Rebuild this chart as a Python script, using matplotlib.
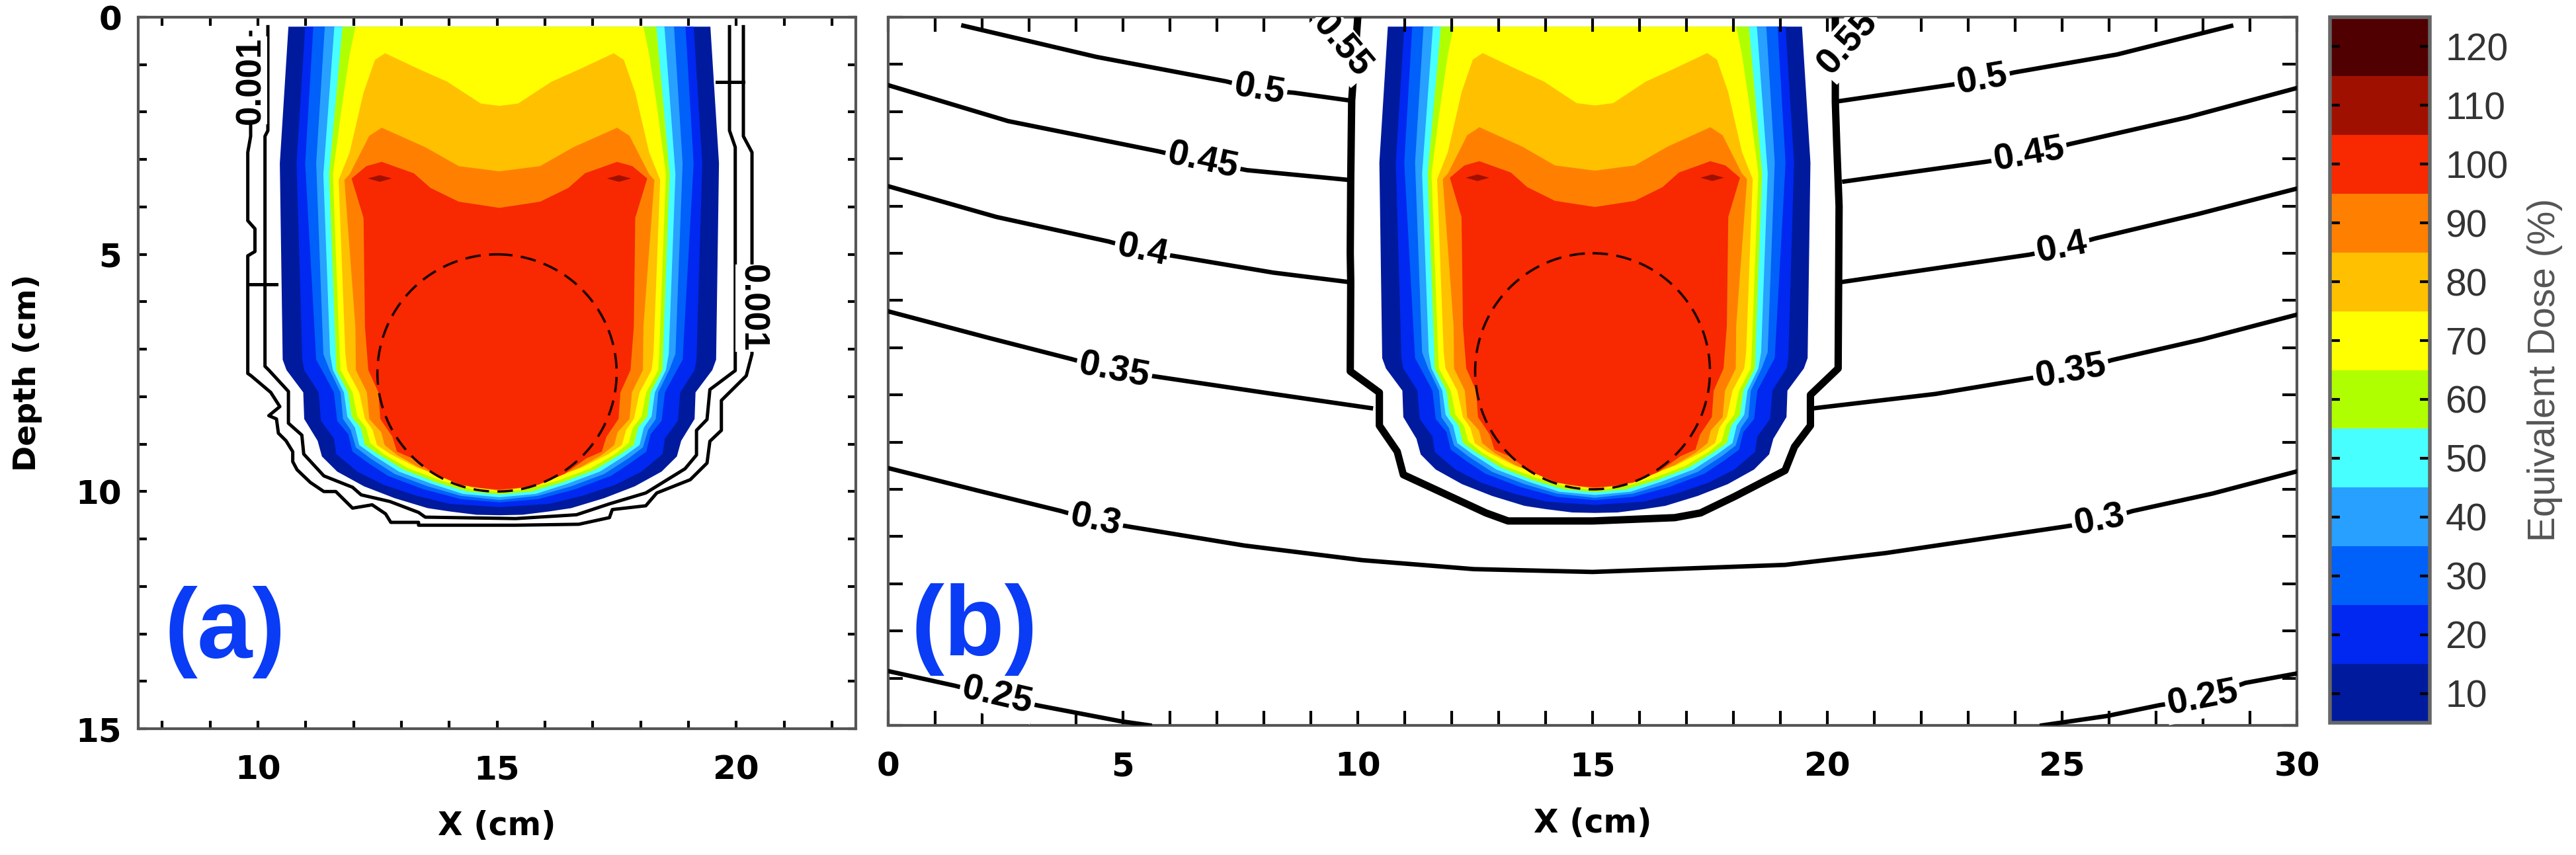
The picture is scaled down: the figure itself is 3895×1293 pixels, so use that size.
import matplotlib
matplotlib.use("Agg")
import matplotlib.pyplot as plt
import numpy as np
from matplotlib.colors import ListedColormap, BoundaryNorm
from matplotlib.cm import ScalarMappable
from matplotlib.patches import Circle
from matplotlib.ticker import MultipleLocator

# colour bands of the dose map
dose_levels = [5, 15, 25, 35, 45, 55, 65, 75, 85, 95, 105, 115, 125]
dose_ticks = [10, 20, 30, 40, 50, 60, 70, 80, 90, 100, 110, 120]
dose_colors = ["#001a9e", "#0028f0", "#0060fa", "#28a0ff", "#48ffff", "#b0ff00",
               "#ffff00", "#ffc000", "#ff8000", "#f82800", "#a01000", "#500000"]
beam_centre = 15.05

# isodose outlines: half width from the beam centre (cm) against depth (cm)
hw_5 = [4.41, 4.59, 4.53, 4.45, 4.10, 4.08, 3.80, 3.71, 3.39, 2.83, 2.19, 1.50, 1.04, 0.48, 0]
d_5 = [0.2, 3.08, 7.22, 7.44, 7.91, 8.47, 8.93, 9.26, 9.58, 9.89, 10.14, 10.35, 10.42, 10.49, 10.5]
hw_15 = [4.06, 4.24, 4.12, 4.08, 3.78, 3.73, 3.46, 3.41, 2.97, 2.42, 1.73, 1.04, 0]
d_15 = [0.2, 3.08, 7.22, 7.44, 7.91, 8.51, 8.88, 9.21, 9.58, 9.86, 10.09, 10.26, 10.33]
hw_25 = [3.89, 4.06, 3.83, 3.71, 3.46, 3.39, 3.16, 3.07, 2.74, 2.33, 1.59, 0.81, 0]
d_25 = [0.2, 3.08, 7.22, 7.44, 7.91, 8.51, 8.79, 9.16, 9.4, 9.67, 9.95, 10.16, 10.23]
hw_35 = [3.65, 3.83, 3.68, 3.55, 3.32, 3.27, 3.11, 3.0, 2.70, 2.19, 1.5, 0.81, 0]
d_35 = [0.2, 3.08, 7.1, 7.44, 7.91, 8.47, 8.7, 9.07, 9.3, 9.63, 9.89, 10.09, 10.18]
hw_45 = [3.45, 3.68, 3.54, 3.48, 3.25, 3.18, 3.02, 2.93, 2.60, 2.10, 1.41, 0.76, 0]
d_45 = [0.2, 3.31, 7.1, 7.44, 7.91, 8.42, 8.65, 9.02, 9.26, 9.58, 9.84, 10.05, 10.12]
hw_55 = [3.28, 3.56, 3.42, 3.41, 3.16, 3.09, 2.90, 2.81, 2.51, 2.0, 1.31, 0.67, 0]
d_55 = [0.2, 3.31, 7.1, 7.44, 7.91, 8.42, 8.65, 9.02, 9.23, 9.54, 9.81, 10.0, 10.06]
hw_65 = [3.01, 3.13, 3.3, 3.48, 3.34, 3.32, 3.07, 2.97, 2.79, 2.70, 2.42, 1.91, 1.22, 0.58, 0]
d_65 = [0.2, 0.78, 1.93, 3.31, 7.1, 7.44, 7.91, 8.42, 8.65, 8.98, 9.21, 9.51, 9.77, 9.95, 10.01]
hw_75 = [0, 0.39, 1.09, 1.67, 2.39, 2.6, 2.84, 3.13, 3.36, 3.22, 3.18, 2.93, 2.81, 2.65, 2.56, 2.28, 1.73, 1.13, 0.48, 0]
d_75 = [1.87, 1.82, 1.36, 1.1, 0.76, 0.9, 1.59, 2.85, 3.43, 7.1, 7.44, 7.91, 8.47, 8.7, 9.02, 9.21, 9.49, 9.72, 9.91, 9.99]
hw_85 = [0, 0.85, 1.55, 2.46, 2.72, 3.13, 3.24, 3.01, 3.0, 2.77, 2.72, 2.47, 2.40, 2.14, 1.69, 1.08, 0.58, 0]
d_85 = [3.25, 3.14, 2.74, 2.33, 2.5, 3.31, 3.43, 6.53, 7.44, 7.91, 8.47, 8.75, 9.02, 9.23, 9.49, 9.73, 9.91, 9.98]
hw_95 = [0, 0.85, 1.44, 1.79, 2.46, 2.78, 3.09, 2.84, 2.81, 2.74, 2.53, 2.49, 2.24, 2.14, 1.82, 1.36, 0.81, 0.35, 0]
d_95 = [4.02, 3.89, 3.6, 3.29, 3.05, 3.14, 3.4, 4.23, 6.53, 7.44, 7.91, 8.47, 8.84, 9.16, 9.3, 9.63, 9.86, 9.93, 9.96]
hot_hw = [2.25, 2.5, 2.75, 2.5]
hot_d = [3.4, 3.33, 3.4, 3.47]

# target circle
target_x = 15.0
target_depth = 7.5
target_r = 2.5

# panel (a) low dose lines
a_outer_x = [9.85, 9.85, 9.79, 9.79, 9.94, 9.94, 9.79, 9.79, 9.86, 10.27, 10.46, 10.23, 10.39, 10.43, 10.59,
             10.73, 10.73, 10.82, 11.1, 11.38, 11.63, 11.98, 12.39, 12.67, 12.78, 13.36, 13.36, 15.39,
             16.71, 17.35, 17.41, 18.11, 18.34, 19.04, 19.39, 19.45, 19.69, 19.69, 20.21, 20.33, 20.33, 20.15, 20.15]
a_outer_d = [0.32, 2.51, 2.85, 4.29, 4.46, 4.94, 5.03, 7.51, 7.56, 7.91, 8.21, 8.4, 8.47, 8.77, 8.93,
             9.16, 9.37, 9.54, 9.81, 10.0, 10.0, 10.35, 10.28, 10.47, 10.65, 10.65, 10.71, 10.71,
             10.69, 10.55, 10.38, 10.3, 10.03, 9.75, 9.4, 8.94, 8.71, 8.08, 7.56, 7.1, 2.85, 2.51, 0.2]
a_inner_x = [10.21, 10.21, 10.15, 10.15, 10.23, 10.64, 10.64, 10.92, 10.96, 11.38, 11.98, 12.16, 12.76, 13.36,
             13.5, 15.39, 16.66, 17.35, 18.11, 18.93, 19.17, 19.17, 19.39, 19.45, 19.98, 19.98, 19.86, 19.86]
a_inner_d = [0.2, 2.39, 2.51, 7.36, 7.44, 7.89, 8.56, 8.81, 9.21, 9.67, 9.91, 10.07, 10.21, 10.44,
             10.54, 10.57, 10.49, 10.26, 10.03, 9.52, 9.23, 8.71, 8.48, 7.85, 7.45, 2.74, 2.39, 0.2]
a_stub_left_x = [9.82, 10.39]
a_stub_left_d = [5.63, 5.63]
a_stub_right_x = [19.6, 20.15]
a_stub_right_d = [1.36, 1.36]
a_labels = ["0.001", "0.001"]
a_label_x = [9.85, 20.33]
a_label_d = [1.33, 6.13]
a_label_rot = [90, -90]

# panel (b) contour lines, each broken by the thick 0.55 line
l50_x = [1.6, 4.43, 7.2, 7.9, 8.64, 9.87]
l50_d = [0.18, 0.84, 1.36, 1.54, 1.6, 1.77]
r50_x = [20.17, 22.58, 23.3, 23.98, 26.17, 28.6]
r50_d = [1.79, 1.44, 1.33, 1.17, 0.79, 0.185]
l45_x = [0, 2.55, 5.75, 6.7, 7.64, 9.84]
l45_d = [1.44, 2.2, 2.84, 3.06, 3.24, 3.45]
r45_x = [20.36, 23.39, 24.3, 25.15, 27.67, 30]
r45_d = [3.48, 3.06, 2.92, 2.69, 2.12, 1.5]
l40_x = [0, 2.3, 4.69, 5.41, 6.1, 8.2, 9.81]
l40_d = [3.58, 4.23, 4.75, 4.95, 5.06, 5.41, 5.61]
r40_x = [20.3, 24.3, 25.0, 25.69, 27.89, 30]
r40_d = [5.61, 5.03, 4.89, 4.69, 4.17, 3.63]
l35_x = [0, 2.17, 3.9, 4.81, 5.69, 8.2, 10.28]
l35_d = [6.23, 6.8, 7.24, 7.49, 7.61, 7.98, 8.28]
r35_x = [19.74, 22.3, 24.24, 25.19, 26.07, 28.0, 30]
r35_d = [8.28, 7.98, 7.66, 7.51, 7.26, 6.82, 6.3]
m30_x = [0, 1.92, 3.68, 4.41, 5.13, 7.58, 10.09, 12.47, 15.0, 19.1, 21.24, 25.05, 25.8, 26.5, 28.2, 30]
m30_d = [9.55, 10.03, 10.46, 10.67, 10.79, 11.19, 11.5, 11.69, 11.75, 11.6, 11.35, 10.79, 10.67, 10.46, 10.09, 9.62]
l25_x = [0, 1.42, 2.32, 3.2, 4.94, 5.57]
l25_d = [13.85, 14.16, 14.39, 14.58, 14.91, 15.0]
r25_x = [24.57, 25.96, 27.08, 28.0, 28.9, 30]
r25_d = [15.0, 14.8, 14.57, 14.43, 14.1, 13.9]
l55_x = [10.0, 9.87, 9.85, 9.84, 9.85, 9.84, 10.46, 10.46, 10.84, 10.97, 11.97, 12.73, 13.2, 15.0,
         16.75, 17.3, 18.03, 19.1, 19.3, 19.64, 19.64, 20.23, 20.25, 20.2, 20.17, 20.17]
l55_d = [0, 1.77, 3.45, 5.0, 5.61, 7.5, 7.95, 8.65, 9.2, 9.69, 10.15, 10.5, 10.67, 10.67,
         10.6, 10.5, 10.15, 9.6, 9.1, 8.65, 8.0, 7.44, 4.0, 2.7, 1.79, 0]

b_labels = ["0.5", "0.5", "0.45", "0.45", "0.4", "0.4", "0.35", "0.35", "0.3", "0.3", "0.25", "0.25", "0.55", "0.55"]
b_label_x = [7.9, 23.3, 6.7, 24.3, 5.41, 25.0, 4.81, 25.19, 4.41, 25.8, 2.32, 28.0, 9.65, 20.44]
b_label_d = [1.54, 1.33, 3.06, 2.92, 4.95, 4.89, 7.49, 7.51, 10.67, 10.67, 14.39, 14.43, 0.61, 0.55]
b_label_rot = [-10, 10, -12, 10, -12, 11, -11, 10, -12, 11, -13, 11, -50, 48]

band_hw = [hw_5, hw_15, hw_25, hw_35, hw_45, hw_55, hw_65, hw_75, hw_85, hw_95]
band_d = [d_5, d_15, d_25, d_35, d_45, d_55, d_65, d_75, d_85, d_95]

LINE = "#000000"
FRAME = "#555555"
BLUE = "#0a3cf5"
TICK_FONT = ["DejaVu Sans"]
plt.rcParams["font.family"] = ["Liberation Sans", "DejaVu Sans"]

W, H = 3895.0, 1293.0
fig = plt.figure(figsize=(W / 100, H / 100), dpi=100)


def box(x0, x1, y0, y1):
    return [x0 / W, 1 - y1 / H, (x1 - x0) / W, (y1 - y0) / H]


ax_a = fig.add_axes(box(209, 1294, 26, 1102))
ax_b = fig.add_axes(box(1343, 3473, 26, 1097))
cax = fig.add_axes(box(3523, 3674, 26, 1093))


def draw_dose(ax):
    for i in range(len(band_hw)):
        hw = np.array(band_hw[i])
        d = np.array(band_d[i])
        xs = np.concatenate([beam_centre - hw, (beam_centre + hw)[::-1]])
        ys = np.concatenate([d, d[::-1]])
        ax.fill(xs, ys, color=dose_colors[i], lw=0, zorder=1)
    for side in [-1, 1]:
        ax.fill(beam_centre + side * np.array(hot_hw), hot_d, color=dose_colors[10], lw=0, zorder=1.5)
    ax.add_patch(Circle((target_x, target_depth), target_r, fill=False, ec="#200000",
                        lw=2.6, ls=(0, (6.5, 3.5)), zorder=2))


def style_axes(ax, xlim, xmajor, tick_len):
    ax.set_xlim(xlim)
    ax.set_ylim(15, 0)
    ax.xaxis.set_major_locator(MultipleLocator(xmajor))
    ax.xaxis.set_minor_locator(MultipleLocator(1))
    ax.yaxis.set_major_locator(MultipleLocator(5))
    ax.yaxis.set_minor_locator(MultipleLocator(1))
    ax.tick_params(which="both", direction="in", top=True, right=True, width=3, color="black",
                   length=tick_len)
    ax.tick_params(axis="x", which="major", pad=28)
    ax.tick_params(axis="y", which="major", pad=18)
    for lab in ax.get_xticklabels() + ax.get_yticklabels():
        lab.set_family(TICK_FONT)
        lab.set_weight("bold")
        lab.set_fontsize(36)
    for sp in ax.spines.values():
        sp.set_color(FRAME)
        sp.set_linewidth(3)


# panel (a)
draw_dose(ax_a)
ax_a.plot(a_outer_x, a_outer_d, color=LINE, lw=3.6, zorder=3)
ax_a.plot(a_inner_x, a_inner_d, color=LINE, lw=3.6, zorder=3)
ax_a.plot(a_stub_left_x, a_stub_left_d, color=LINE, lw=3.6, zorder=3)
ax_a.plot(a_stub_right_x, a_stub_right_d, color=LINE, lw=3.6, zorder=3)
for s, x, d, r in zip(a_labels, a_label_x, a_label_d, a_label_rot):
    ax_a.text(x, d, s, rotation=r, ha="center", va="center", fontsize=38, fontweight="bold",
              color=LINE, zorder=4, bbox=dict(fc="white", ec="none", pad=0))
style_axes(ax_a, (7.5, 22.5), 5, 9)
ax_a.set_xlabel("X (cm)", fontsize=35, fontweight="bold", family=TICK_FONT)
ax_a.xaxis.set_label_coords(0.5, -0.137)
ax_a.xaxis.label.set_va("center")
ax_a.set_ylabel("Depth (cm)", fontsize=34, fontweight="bold", family=TICK_FONT)
ax_a.yaxis.set_label_coords(-0.154, 0.5)
ax_a.yaxis.label.set_va("center")
ax_a.text(9.32, 12.97, "(a)", color=BLUE, fontsize=108, fontweight="bold", ha="center", va="center", zorder=5)

# panel (b)
draw_dose(ax_b)
for xs, ds in [(l50_x, l50_d), (r50_x, r50_d), (l45_x, l45_d), (r45_x, r45_d), (l40_x, l40_d),
               (r40_x, r40_d), (l35_x, l35_d), (r35_x, r35_d), (m30_x, m30_d), (l25_x, l25_d),
               (r25_x, r25_d)]:
    ax_b.plot(xs, ds, color=LINE, lw=4.8, zorder=3)
ax_b.plot(l55_x, l55_d, color=LINE, lw=8, zorder=3)
for s, x, d, r in zip(b_labels, b_label_x, b_label_d, b_label_rot):
    t = ax_b.text(x, d, s, rotation=r, rotation_mode="anchor", ha="center", va="center", fontsize=40,
                  fontweight="bold", color=LINE, zorder=4, clip_on=True,
                  bbox=dict(fc="white", ec="none", pad=3))
style_axes(ax_b, (0, 30), 5, 16)
ax_b.set_yticklabels([])
ax_b.set_xlabel("X (cm)", fontsize=35, fontweight="bold", family=TICK_FONT)
ax_b.xaxis.set_label_coords(0.5, -0.138)
ax_b.xaxis.label.set_va("center")
ax_b.text(1.83, 12.97, "(b)", color=BLUE, fontsize=108, fontweight="bold", ha="center", va="center", zorder=5)

# colour bar
cmap = ListedColormap(dose_colors)
norm = BoundaryNorm(dose_levels, cmap.N)
cb = fig.colorbar(ScalarMappable(norm=norm, cmap=cmap), cax=cax, ticks=dose_ticks, spacing="uniform")
cb.ax.tick_params(which="major", direction="in", left=True, right=True, length=11, width=3,
                  color="black", labelsize=41, labelcolor="#333333", pad=17)
cb.ax.minorticks_off()
cb.outline.set_edgecolor("#666666")
cb.outline.set_linewidth(4)
cb.set_label("Equivalent Dose (%)", fontsize=41, color="#555555", labelpad=20)

fig.savefig("out.png", dpi=100, facecolor="white")
